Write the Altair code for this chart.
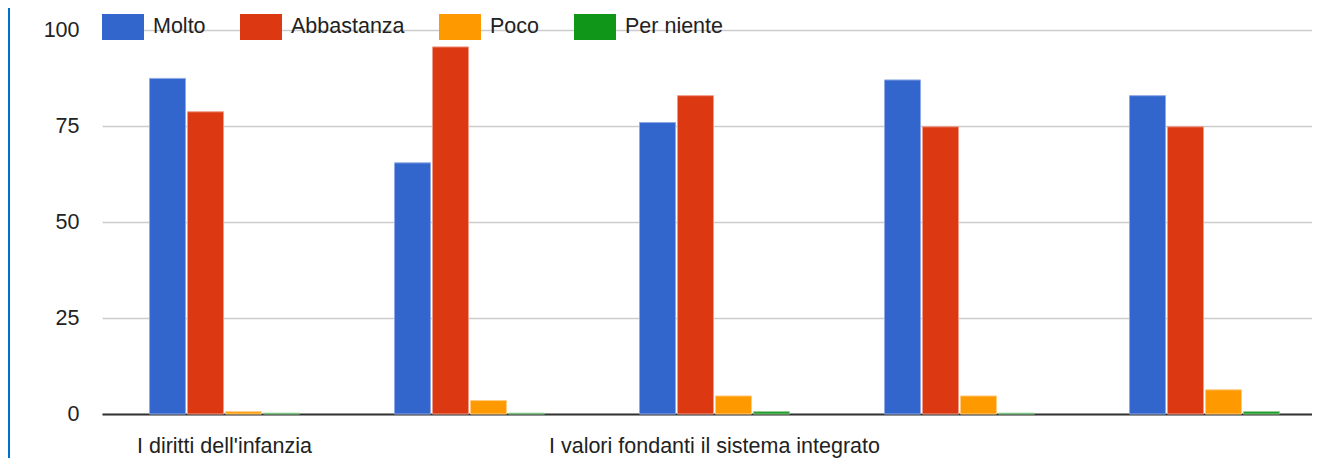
import altair as alt
import pandas as pd

categories = [
    "I diritti dell'infanzia",
    "Categoria 2",
    "I valori fondanti il sistema integrato",
    "Categoria 4",
    "Categoria 5",
]
series = ["Molto", "Abbastanza", "Poco", "Per niente"]
molto = [87.4, 65.4, 75.9, 87.0, 82.9]
abbastanza = [78.7, 95.6, 82.9, 74.8, 74.8]
poco = [0.6, 3.5, 4.7, 4.7, 6.3]
per_niente = [0.2, 0.2, 0.6, 0.2, 0.6]
shown_labels = [categories[0], categories[2]]
y_ticks = [0, 25, 50, 75, 100]

colors = ["#3366cc", "#dc3912", "#ff9900", "#109618"]
edge_colors = ["#8fa9e6", "#ee9c88", "#ffcc80", "#88cb8c"]

rows = []
for s, vals in zip(series, [molto, abbastanza, poco, per_niente]):
    for c, v in zip(categories, vals):
        rows.append({"categoria": c, "serie": s, "valore": v})
df = pd.DataFrame(rows)

FONT = "Liberation Sans"
FS = 21.5

bars = alt.Chart(df).mark_bar(strokeWidth=1).encode(
    x=alt.X(
        "categoria:N",
        sort=categories,
        title=None,
        scale=alt.Scale(paddingInner=0.388, paddingOuter=0.194, range=[0, 1225]),
        axis=alt.Axis(
            values=shown_labels,
            labelAngle=0,
            ticks=False,
            domain=True,
            domainColor="#333333",
            domainWidth=2,
            grid=False,
            labelPadding=21,
            labelFont=FONT,
            labelFontSize=FS,
            labelColor="#222222",
            labelLimit=0,
        ),
    ),
    xOffset=alt.XOffset(
        "serie:N", sort=series, scale=alt.Scale(paddingInner=0.0526, paddingOuter=0)
    ),
    y=alt.Y(
        "valore:Q",
        title=None,
        scale=alt.Scale(domain=[0, 100], nice=False),
        axis=alt.Axis(
            values=y_ticks,
            ticks=False,
            domain=False,
            grid=True,
            gridColor="#cccccc",
            gridWidth=1.5,
            labelPadding=23,
            labelFont=FONT,
            labelFontSize=FS,
            labelColor="#222222",
        ),
    ),
    color=alt.Color(
        "serie:N",
        sort=series,
        scale=alt.Scale(domain=series, range=colors),
        legend=alt.Legend(
            title=None,
            orient="none",
            direction="horizontal",
            legendX=8,
            legendY=-16,
            symbolType="M-1.615,-1H1.615V1H-1.615Z",
            symbolSize=676,
            symbolStrokeWidth=0,
            symbolOpacity=1,
            labelOffset=17,
            columnPadding=34,
            labelFont=FONT,
            labelFontSize=FS,
            labelColor="#222222",
        ),
    ),
    stroke=alt.Stroke(
        "serie:N", scale=alt.Scale(domain=series, range=edge_colors), legend=None
    ),
)

border = alt.Chart(pd.DataFrame({"b": [0]})).mark_rule(
    color="#0070c8", strokeWidth=3
).encode(x=alt.value(-93.5), y=alt.value(-30), y2=alt.value(460))

chart = (
    alt.layer(bars, border)
    .properties(
        width=1208,
        height=384,
        padding={"left": 94, "top": 22, "right": 2, "bottom": 44},
        autosize=alt.AutoSizeParams(type="none"),
        background="white",
    )
    .configure_view(stroke="transparent", strokeWidth=0)
)

chart.save("out.html", embed_options={"renderer": "svg", "actions": False})
